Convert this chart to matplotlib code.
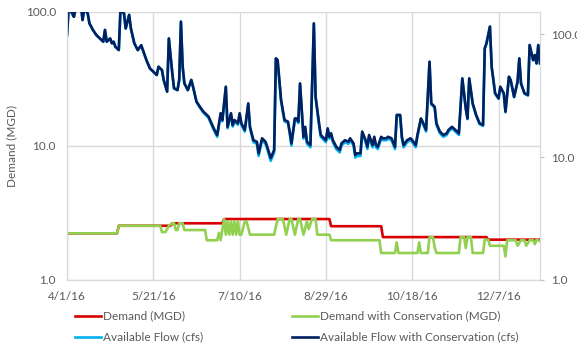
import matplotlib
matplotlib.use('Agg')
import matplotlib.pyplot as plt
import matplotlib.ticker as mticker
import numpy as np
import pandas as pd

plt.rcParams['font.family'] = ['Lato', 'DejaVu Sans']

start = pd.Timestamp('2016-04-01')
end = pd.Timestamp('2016-12-31')

tick_labels = ['4/1/16', '5/21/16', '7/10/16', '8/29/16', '10/18/16', '12/7/16']

# demand, MGD (day offsets from 4/1/16)
demand_days = [0, 29, 30, 60, 61, 90, 91, 152, 153, 182, 183, 243, 244, 274]
demand = [2.23, 2.23, 2.54, 2.54, 2.65, 2.65, 2.85, 2.85, 2.52, 2.52, 2.09, 2.09, 2.0, 2.0]

cons_days = [0, 29, 30, 54, 55, 57, 58, 59, 61, 62,
             63, 64, 65, 67, 68, 80, 81, 87, 88, 89,
             91, 92, 93, 94, 95, 96, 97, 98, 99, 100,
             101, 103, 104, 106, 120, 122, 125, 126, 127, 129,
             130, 132, 134, 135, 137, 139, 140, 142, 144, 145,
             152, 153, 181, 182, 190, 191, 192, 203, 204, 205,
             209, 210, 212, 213, 214, 227, 228, 230, 231, 232,
             234, 235, 241, 242, 244, 245, 253, 254, 255, 260,
             261, 263, 265, 266, 268, 270, 271, 272, 274]
demand_cons = [2.23, 2.23, 2.54, 2.54, 2.28, 2.28, 2.40, 2.54, 2.65, 2.65,
               2.36, 2.36, 2.65, 2.65, 2.36, 2.36, 1.98, 1.98, 2.25, 1.98,
               2.85, 2.18, 2.74, 2.18, 2.74, 2.18, 2.74, 2.18, 2.74, 2.18,
               2.18, 2.74, 2.74, 2.18, 2.18, 2.85, 2.85, 2.52, 2.18, 2.85,
               2.85, 2.18, 2.85, 2.85, 2.18, 2.74, 2.40, 2.85, 2.85, 2.18,
               2.18, 1.98, 1.98, 1.59, 1.59, 1.91, 1.59, 1.59, 1.91, 1.59,
               1.59, 2.09, 2.09, 1.75, 1.59, 1.59, 2.09, 2.09, 1.73, 2.09,
               2.09, 1.59, 1.59, 2.0, 2.0, 1.80, 1.80, 1.50, 1.98, 1.98,
               1.80, 1.98, 1.98, 1.80, 1.98, 1.98, 1.85, 2.0, 1.95]

# available flow, cfs
flow_days = [0, 1, 3, 4, 5, 8, 9, 10, 12, 13,
             15, 17, 19, 21, 22, 23, 25, 26, 27, 28,
             30, 31, 33, 34, 36, 37, 39, 41, 43, 45,
             46, 48, 50, 52, 53, 55, 56, 58, 59, 61,
             62, 64, 65, 66, 67, 68, 70, 72, 73, 75,
             77, 79, 82, 85, 87, 89, 90, 92, 93, 95,
             96, 97, 99, 100, 101, 103, 105, 106, 108, 110,
             111, 113, 115, 116, 118, 120, 121, 122, 124, 126,
             128, 129, 130, 132, 133, 134, 135, 137, 138, 139,
             141, 143, 144, 146, 147, 148, 150, 151, 152, 153,
             154, 156, 158, 159, 161, 163, 164, 166, 167, 168,
             170, 171, 173, 174, 175, 177, 178, 179, 180, 182,
             183, 185, 186, 188, 190, 191, 193, 194, 195, 197,
             199, 200, 202, 203, 205, 206, 208, 210, 211, 213,
             214, 216, 218, 220, 221, 223, 224, 226, 227, 229,
             231, 232, 233, 235, 237, 239, 241, 242, 243, 245,
             246, 248, 250, 251, 253, 254, 256, 257, 259, 261,
             262, 263, 265, 267, 268, 270, 271, 272, 273, 274]
flow_base = [98, 165, 147, 138, 160, 175, 130, 160, 147, 122,
             108, 98, 92, 86.6, 108, 86.6, 92, 84, 86.6, 78.8,
             74.1, 160, 147, 111, 143, 111, 84, 74, 81, 67.5,
             61.4, 52.6, 49.4, 46.4, 54.2, 50.9, 42.3, 34, 92, 47.9,
             36.2, 35, 42.3, 126, 54.2, 39.7, 35, 42.3, 37.3, 28.2,
             25.2, 23.0, 20.8, 16.6, 14.6, 22.2, 19.5, 36.9, 17.1, 22.2,
             17.7, 19.5, 18.3, 22.2, 18.3, 16.1, 26.8, 17.1, 13.2, 12.8,
             10.2, 13.7, 12.8, 11.6, 9.3, 10.9, 63.0, 61.0, 28.6, 19.5,
             18.9, 15.6, 12.4, 20.1, 20.1, 18.9, 39.2, 14.1, 17.1, 12.8,
             12.0, 121.5, 30.4, 18.3, 14.6, 14.1, 13.2, 16.6, 14.1, 15.1,
             13.2, 11.6, 10.9, 12.4, 13.2, 12.8, 13.7, 12.4, 9.9, 10.2,
             10.2, 15.6, 13.2, 11.6, 14.6, 12.0, 14.1, 12.0, 11.6, 14.1,
             13.7, 13.7, 14.1, 13.7, 11.6, 21.5, 21.5, 14.1, 12.0, 13.2,
             13.7, 13.2, 12.0, 14.6, 20.1, 18.9, 16.1, 59.1, 26.8, 25.1,
             18.3, 15.6, 14.6, 15.1, 16.1, 17.1, 16.6, 15.6, 15.1, 43.1,
             24.6, 20.3, 43.3, 27.0, 21.7, 18.5, 17.9, 76.2, 83.7, 114.7,
             53.9, 32.7, 29.7, 37.0, 32.7, 23.1, 44.7, 42.0, 30.6, 40.7,
             63.1, 39.4, 32.7, 31.6, 81.1, 61.1, 67.2, 57.5, 81.1, 57.7]
flow_cons = [98, 165, 147, 138, 160, 175, 130, 160, 147, 122,
             108, 98, 92, 86.6, 108, 86.6, 92, 84, 86.6, 78.8,
             74.1, 160, 147, 111, 143, 111, 84, 74, 81, 67.5,
             61.4, 52.6, 49.4, 46.4, 54.2, 50.9, 42.3, 34, 92, 47.9,
             36.2, 35, 42.3, 126, 54.2, 39.7, 35, 42.3, 37.3, 28.2,
             25.6, 23.4, 21.3, 17.1, 15.1, 22.7, 20, 37.3, 17.6, 22.7,
             18.2, 20, 18.8, 22.7, 18.8, 16.6, 27.3, 17.6, 13.7, 13.3,
             10.7, 14.2, 13.3, 12.1, 9.8, 11.4, 63.4, 61.4, 29.1, 20,
             19.4, 16.1, 12.9, 20.6, 20.6, 19.4, 39.7, 14.6, 17.6, 13.3,
             12.5, 122, 30.9, 18.8, 15.1, 14.6, 13.7, 17.1, 14.6, 15.6,
             13.7, 12.1, 11.4, 12.9, 13.7, 13.3, 14.2, 12.9, 10.4, 10.7,
             10.7, 16.1, 13.7, 12.1, 15.1, 12.5, 14.6, 12.5, 12.1, 14.6,
             14.2, 14.2, 14.6, 14.2, 12.1, 22, 22, 14.6, 12.5, 13.7,
             14.2, 13.7, 12.5, 15.1, 20.6, 19.4, 16.6, 59.6, 27.3, 25.6,
             18.8, 16.1, 15.1, 15.6, 16.6, 17.6, 17.1, 16.1, 15.6, 43.6,
             24.9, 20.6, 43.6, 27.3, 22, 18.8, 18.2, 76.5, 84, 115,
             54.2, 33, 30, 37.3, 33, 23.4, 45, 42.3, 30.9, 41,
             63.4, 39.7, 33, 31.9, 81.4, 61.4, 67.5, 57.8, 81.4, 58]


def to_dates(days):
    return start + pd.to_timedelta(np.array(days), unit='D')


grey = '#595959'
grid = '#d9d9d9'

fig = plt.figure(figsize=(5.77, 3.54), dpi=100)
ax = fig.add_axes([67 / 577, 1 - 280 / 354, 473 / 577, 268 / 354])
ax2 = ax.twinx()

l1, = ax.plot(to_dates(demand_days), demand, color='#d80000', lw=1.9,
              solid_joinstyle='round', label='Demand (MGD)')
l2, = ax.plot(to_dates(cons_days), demand_cons, color='#92d050', lw=1.9,
              solid_joinstyle='round', label='Demand with Conservation (MGD)')
l3, = ax2.plot(to_dates(flow_days), flow_base, color='#00b0f0', lw=1.9,
               solid_joinstyle='round', label='Available Flow (cfs)')
l4, = ax2.plot(to_dates(flow_days), flow_cons, color='#002060', lw=1.9,
               solid_joinstyle='round', label='Available Flow with Conservation (cfs)')

ax.set_yscale('log')
ax.set_ylim(1, 100)
ax2.set_yscale('log')
ax2.set_ylim(1, 151)
ax.set_xlim(start, end)

for a in (ax, ax2):
    a.yaxis.set_minor_locator(mticker.NullLocator())

ax.set_yticks([1, 10, 100])
ax.set_yticklabels(['1.0', '10.0', '100.0'])
ax2.set_yticks([1, 10, 100])
ax2.set_yticklabels(['1.0', '10.0', '100.0'])

tick_dates = [start + pd.Timedelta(days=50 * i) for i in range(len(tick_labels))]
ax.set_xticks(tick_dates)
ax.set_xticklabels(tick_labels)

ax.tick_params(axis='both', length=0, labelsize=8.5, labelcolor=grey)
ax.tick_params(axis='y', pad=8)
ax.tick_params(axis='x', pad=8)
ax2.tick_params(axis='y', length=3, color='#bfbfbf', labelsize=8.5, labelcolor=grey, pad=5)

ax.set_axisbelow(True)
ax.grid(True, color=grid, lw=1)
for a in (ax, ax2):
    for side in ('left', 'bottom', 'right'):
        a.spines[side].set_color(grid)
    a.spines['top'].set_visible(False)

fig.text(12 / 577, 1 - 146 / 354, 'Demand (MGD)', rotation=90, ha='center', va='center',
         fontsize=8.5, color=grey)

fig.legend(handles=[l1, l3, l2, l4], ncol=2, loc='upper left',
           bbox_to_anchor=(70 / 577, 1 - 306 / 354), frameon=False,
           fontsize=8.5, labelcolor=grey, handlelength=2.2, handletextpad=0.2,
           columnspacing=7.5, borderaxespad=0, labelspacing=0.85)

fig.savefig('out.png', dpi=100)
